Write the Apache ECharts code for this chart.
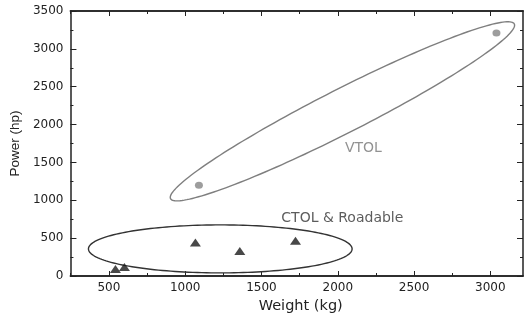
<!DOCTYPE html>
<html>
<head>
<meta charset="utf-8">
<script src="https://cdn.jsdelivr.net/npm/echarts@6/dist/echarts.min.js"></script>
<style>
html,body{margin:0;padding:0;background:#fff;}
#c{width:526px;height:320px;}
</style>
</head>
<body>
<div id="c"></div>
<script>
// ---- data ----
const vtolWeight = [1090, 3040];
const vtolPower = [1200, 3210];
const ctolWeight = [543, 602, 1067, 1358, 1723];
const ctolPower = [93, 120, 442, 331, 464];
const xMajorTicks = [500, 1000, 1500, 2000, 2500, 3000];
const xMinorTicks = [250, 750, 1250, 1750, 2250, 2750];
const xTitle = 'Weight (kg)';
const yTitle = 'Power (hp)';
// annotation ellipses: major-axis end points (data units)
const vtolEllipseEnds = [[904, 1021], [3157, 3329]];
const ctolEllipseEnds = [[366, 358], [2094, 358]];
const annotationNames = ['VTOL', 'CTOL & Roadable'];
const annotationPos = [[2168, 1684], [2030, 756]];

const chart = echarts.init(document.getElementById('c'), null, {renderer: 'canvas'});
const axisCol = '#222';
const labelFont = {fontFamily: 'DejaVu Sans', fontSize: 12, color: '#222', formatter: v => String(v)};

function ellipseItem(minorPx, color) {
  return function (params, api) {
    const p1 = api.coord([api.value(0), api.value(1)]);
    const p2 = api.coord([api.value(2), api.value(3)]);
    const cx = (p1[0] + p2[0]) / 2, cy = (p1[1] + p2[1]) / 2;
    const a = Math.hypot(p2[0] - p1[0], p2[1] - p1[1]) / 2;
    const ang = Math.atan2(p2[1] - p1[1], p2[0] - p1[0]);
    const pts = [];
    for (let i = 0; i < 180; i++) {
      const t = i / 180 * Math.PI * 2;
      const u = a * Math.cos(t), v = minorPx * Math.sin(t);
      pts.push([cx + u * Math.cos(ang) - v * Math.sin(ang), cy + u * Math.sin(ang) + v * Math.cos(ang)]);
    }
    return {type: 'polygon', shape: {points: pts}, style: {fill: 'none', stroke: color, lineWidth: 1.4}};
  };
}

const xBase = {
  type: 'value', min: 248, max: 3214,
  axisLine: {show: true, lineStyle: {color: axisCol, width: 1.5}},
  splitLine: {show: false}
};
const yBase = {
  type: 'value', min: 0, max: 3500, interval: 500,
  axisLine: {show: true, lineStyle: {color: axisCol, width: 1.5}},
  splitLine: {show: false},
  minorTick: {show: true, splitNumber: 2, length: 3, lineStyle: {color: axisCol}}
};

chart.setOption({
  backgroundColor: '#fff',
  animation: false,
  grid: {left: 70, right: 3, top: 11, bottom: 44},
  xAxis: [
    Object.assign({}, xBase, {
      position: 'bottom',
      name: xTitle, nameLocation: 'middle', nameGap: 22,
      nameTextStyle: {fontFamily: 'DejaVu Sans', fontSize: 14.5, color: '#222', padding: [0, 0, 0, 8]},
      axisTick: {show: true, inside: true, length: 5, customValues: xMajorTicks, lineStyle: {color: axisCol}},
      axisLabel: Object.assign({customValues: xMajorTicks, margin: 6}, labelFont)
    }),
    Object.assign({}, xBase, {
      position: 'bottom',
      axisTick: {show: true, inside: true, length: 3, customValues: xMinorTicks, lineStyle: {color: axisCol}},
      axisLabel: {show: false}
    }),
    Object.assign({}, xBase, {
      position: 'top',
      axisTick: {show: true, inside: true, length: 5, customValues: xMajorTicks, lineStyle: {color: axisCol}},
      axisLabel: {show: false}
    }),
    Object.assign({}, xBase, {
      position: 'top',
      axisTick: {show: true, inside: true, length: 3, customValues: xMinorTicks, lineStyle: {color: axisCol}},
      axisLabel: {show: false}
    })
  ],
  yAxis: [
    Object.assign({}, yBase, {
      position: 'left',
      name: yTitle, nameLocation: 'middle', nameGap: 45,
      nameTextStyle: {fontFamily: 'Liberation Sans', fontSize: 13.5, color: '#222'},
      axisTick: {show: true, inside: true, length: 6, lineStyle: {color: axisCol}},
      axisLabel: Object.assign({margin: 7}, labelFont)
    }),
    Object.assign({}, yBase, {
      position: 'right',
      axisTick: {show: true, inside: true, length: 6, lineStyle: {color: axisCol}},
      axisLabel: {show: false}
    })
  ],
  series: [
    {
      type: 'custom', xAxisIndex: 0, yAxisIndex: 0, silent: true,
      renderItem: ellipseItem(22, '#7f7f7f'),
      data: [[vtolEllipseEnds[0][0], vtolEllipseEnds[0][1], vtolEllipseEnds[1][0], vtolEllipseEnds[1][1]]],
      encode: {x: [0, 2], y: [1, 3]}, clip: false, z: 1
    },
    {
      type: 'custom', xAxisIndex: 0, yAxisIndex: 0, silent: true,
      renderItem: ellipseItem(24, '#333333'),
      data: [[ctolEllipseEnds[0][0], ctolEllipseEnds[0][1], ctolEllipseEnds[1][0], ctolEllipseEnds[1][1]]],
      encode: {x: [0, 2], y: [1, 3]}, clip: false, z: 1
    },
    {
      type: 'scatter', name: 'VTOL', xAxisIndex: 0, yAxisIndex: 0,
      symbol: 'circle', symbolSize: [8, 7],
      itemStyle: {color: '#858585'},
      data: vtolWeight.map((w, i) => [w, vtolPower[i]]), z: 3
    },
    {
      type: 'scatter', name: 'CTOL', xAxisIndex: 0, yAxisIndex: 0,
      symbol: 'triangle', symbolSize: [11, 8],
      itemStyle: {color: '#1a1a1a'},
      data: ctolWeight.map((w, i) => [w, ctolPower[i]]), z: 3
    },
    {
      type: 'scatter', xAxisIndex: 0, yAxisIndex: 0, silent: true,
      symbolSize: 0,
      label: {
        show: true, position: 'inside',
        formatter: p => p.name,
        fontFamily: 'DejaVu Sans', fontSize: 14
      },
      data: [
        {name: annotationNames[0], value: annotationPos[0], label: {color: '#777'}},
        {name: annotationNames[1], value: annotationPos[1], label: {color: '#333'}}
      ], z: 4
    }
  ]
});
</script>
</body>
</html>
